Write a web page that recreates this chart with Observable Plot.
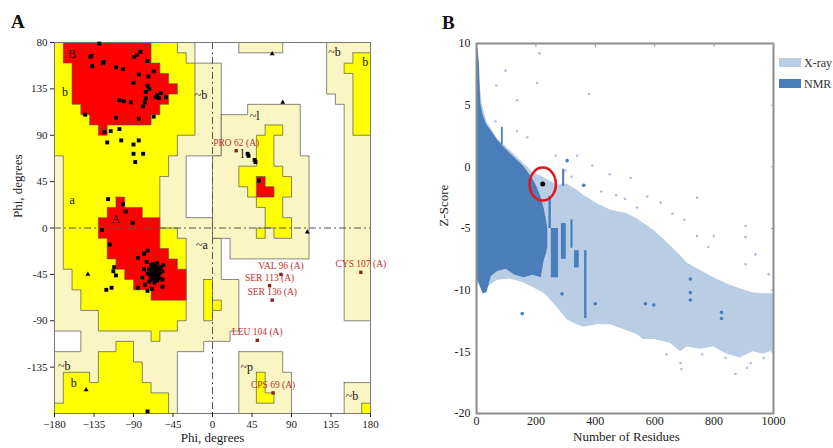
<!DOCTYPE html>
<html><head><meta charset="utf-8">
<script src="https://cdn.jsdelivr.net/npm/d3@7"></script>
<script src="https://cdn.jsdelivr.net/npm/@observablehq/plot@0.6"></script>
<style>
html,body{margin:0;padding:0;background:#fff;}
#wrap{position:relative;width:833px;height:448px;overflow:hidden;font-family:"Liberation Serif",serif;}
#pa{position:absolute;left:0;top:0;}
#pb{position:absolute;left:410px;top:0;}
.plab{position:absolute;font-weight:bold;font-size:19px;color:#111;line-height:20px;}
.leg{position:absolute;font-size:12px;color:#333;white-space:nowrap;line-height:14px;}
.sw{position:absolute;width:22px;height:9px;}
</style></head><body>
<div id="wrap">
  <div id="pa"></div><div id="pb"></div>
  <div class="plab" style="left:11px;top:12px">A</div>
  <div class="plab" style="left:442px;top:13px">B</div>
  <div class="sw" style="left:779px;top:58px;background:#b9cde5"></div>
  <div class="leg" style="left:804px;top:56px">X-ray</div>
  <div class="sw" style="left:779px;top:79px;background:#4a7ebb"></div>
  <div class="leg" style="left:804px;top:77px">NMR</div>
</div>
<script>
// ---------- Panel A: Ramachandran plot data ----------
const xTicksA = [-180, -135, -90, -45, 0, 45, 90, 135, 180];
const yTicksA = [180, 135, 90, 45, 0, -45, -90, -135];
const yTickLabelsA = ["80", "135", "90", "45", "0", "-45", "-90", "-135"];

// generously allowed (pale) regions, [phi, psi]
const paleLeft = [[-180,180],[-20,180],[-20,160],[10,160],[10,70],[-30,70],[-30,10],[0,10],[0,-10],[10,-10],[10,-50],[30,-50],[30,-100],[20,-100],[20,-110],[-10,-110],[-10,-120],[-40,-120],[-40,-180],[-180,-180],[-180,-120],[-150,-120],[-150,-100],[-180,-100]];
const paleLreg = [[10,110],[40,110],[40,120],[100,120],[100,70],[110,70],[110,-30],[20,-30],[20,-10],[0,-10],[0,70],[10,70]];
const paleTop = [[30,170],[80,170],[80,180],[30,180]];
const paleRightStrip = [[130,180],[180,180],[180,-90],[150,-90],[150,120],[140,120],[140,130],[130,130]];
const paleP = [[30,-120],[80,-120],[80,-140],[90,-140],[90,-180],[30,-180]];
const paleBR = [[150,-150],[180,-150],[180,-180],[150,-180]];

// additionally allowed (yellow) regions
const yellowLeft = [[-180,180],[-40,180],[-40,170],[-30,170],[-30,160],[-20,160],[-20,90],[-40,90],[-40,70],[-50,70],[-50,50],[-60,50],[-60,0],[-40,0],[-40,-10],[-30,-10],[-30,-90],[-40,-90],[-40,-100],[-60,-100],[-60,-110],[-70,-110],[-70,-100],[-130,-100],[-130,-80],[-150,-80],[-150,-60],[-160,-60],[-160,-40],[-170,-40],[-170,70],[-180,70]];
const yellowLowLeft = [[-180,-170],[-170,-170],[-170,-140],[-140,-140],[-140,-150],[-130,-150],[-130,-120],[-110,-120],[-110,-110],[-90,-110],[-90,-130],[-80,-130],[-80,-150],[-70,-150],[-70,-160],[-50,-160],[-50,-180],[-180,-180]];
const yellowStrip = [[-10,-50],[0,-50],[0,-90],[-10,-90]];
const yellowSmall = [[0,-70],[10,-70],[10,-80],[0,-80]];
const yellowL = [[60,100],[80,100],[80,90],[70,90],[70,60],[80,60],[80,50],[90,50],[90,30],[80,30],[80,10],[90,10],[90,-10],[70,-10],[70,0],[60,0],[60,-10],[50,-10],[50,0],[60,0],[60,20],[50,20],[50,30],[40,30],[40,40],[30,40],[30,60],[50,60],[50,90],[60,90]];
const yellowTopRight = [[160,170],[180,170],[180,90],[160,90],[160,150],[150,150],[150,160],[160,160]];
const yellowP = [[50,-140],[60,-140],[60,-160],[70,-160],[70,-170],[50,-170]];
const yellowBR = [[170,-170],[180,-170],[180,-180],[170,-180]];

// most favoured (red) regions
const redB = [[-170,180],[-70,180],[-70,160],[-60,160],[-60,150],[-50,150],[-50,140],[-40,140],[-40,130],[-50,130],[-50,120],[-60,120],[-60,110],[-70,110],[-70,100],[-120,100],[-120,90],[-130,90],[-130,100],[-140,100],[-140,110],[-150,110],[-150,120],[-160,120],[-160,160],[-170,160]];
const redA = [[-110,30],[-100,30],[-100,20],[-80,20],[-80,10],[-60,10],[-60,-20],[-50,-20],[-50,-30],[-40,-30],[-40,-40],[-30,-40],[-30,-70],[-70,-70],[-70,-60],[-90,-60],[-90,-50],[-100,-50],[-100,-40],[-110,-40],[-110,-30],[-120,-30],[-120,-10],[-130,-10],[-130,10],[-120,10],[-120,20],[-110,20]];
const redL = [[50,50],[60,50],[60,40],[70,40],[70,30],[50,30]];

// region labels
const regionText = ["B","b","~b","a","A","~a","~b","b","~l","l","~b","b","~p","~b"];
const regionPhi  = [-160,-168,-13,-160,-110,-12,-169,-158,48,34,139,174,39,159];
const regionPsi  = [169,132,129,27,9,-17,-134,-151,109,72,171,161,-135,-163];

// residues (black squares)
const resPhi = [-129,-138,-139,-82,-86,-89,-74,-125,-137,-124,-110,-102,-84,-67,-73,-90,-74,-72,-76,-65,-63,-59,-53,-61,-106,-101,-93,-77,-79,-76,-145,-110,-84,-67,-123,-116,-106,-120,-104,-84,-90,-90,-79,-88,
  -119,-102,-99,-91,-126,-117,-85,-78,-74,-112,-113,-110,-115,-121,-85,-74,-69,-57,-74,
  -70,-68,-66,-64,-72,-70,-67,-64,-61,-59,-74,-71,-68,-65,-62,-60,-57,-66,-63,-70,-75,-56,-72,-60,-68,-65,-62,-78,-80,-57,-77,-66,-69,-63,
  40,41,48,49,53];
const resPsi = [179,167,166,171,168,166,162,160,157,161,156,154,149,152,147,141,138,135,132,127,129,131,127,126,124,123,122,122,118,126,110,107,106,108,93,94,96,83,85,85,81,72,72,64,
  28,23,16,5,-2,-16,-29,-25,-22,-38,-42,-46,-58,-60,-58,-61,-59,-57,-178,
  -36,-35,-37,-38,-40,-42,-41,-42,-40,-38,-44,-46,-47,-46,-45,-44,-42,-50,-51,-50,-33,-36,-52,-49,-44,-44,-48,-40,-48,-50,-55,-53,-39,-34,
  72,70,66,64,46];

// glycines (triangles)
const glyPhi = [-142,-144,68,80,108];
const glyPsi = [-45,-157,169,122,-4];

// outliers
const outNames = ["PRO 62 (A)","VAL 96 (A)","SER 113 (A)","SER 136 (A)","LEU 104 (A)","CPS 69 (A)","CYS 107 (A)"];
const outPhi = [27,78,65,68,51,69,169];
const outPsi = [75,-45,-56,-70,-109,-160,-43];

// ---------- Panel B: ProSA Z-score data ----------
const xTicksB = [0,200,400,600,800,1000];
const yTicksB = [10,5,0,-5,-10,-15,-20];
const xrayN  = [0,10,20,36,70,114,158,192,230,272,305,339,361,406,451,507,540,563,600,653,687,709,754,799,844,889,930,967,1000];
const xrayHi = [9.5,7.0,5.0,3.6,2.3,1.3,0.3,-0.5,-0.9,-1.5,-1.4,-1.9,-2.3,-3.0,-3.5,-3.8,-4.2,-4.6,-5.2,-6.4,-7.2,-7.8,-8.4,-9.0,-9.5,-9.9,-10.2,-10.3,-10.3];
const xrayLo = [-9.4,-9.6,-9.8,-9.8,-9.2,-9.1,-9.4,-9.8,-10.3,-11.4,-12.4,-12.8,-13.0,-12.8,-12.8,-13.3,-13.6,-14.0,-14.0,-14.3,-15.0,-14.6,-14.8,-14.6,-15.2,-15.5,-15.0,-15.2,-14.9];
const nmrN  = [0,5,10,14,22,35,50,70,100,130,160,190,205,218,228,236,240];
const nmrHi = [9.8,9.6,8.3,5.2,4.2,3.4,2.9,2.2,1.4,0.7,0.0,-1.0,-1.7,-2.5,-3.4,-4.4,-5.0];
const nmrLo = [-9.0,-9.2,-9.5,-9.8,-10.3,-10.2,-8.9,-8.5,-8.3,-8.8,-9.0,-8.8,-8.9,-9.0,-7.6,-7.0,-6.5];
const streakN1 = [84,290,244,252,286,318,330,364];
const streakN2 = [90,297,252,276,302,325,346,372];
const streakTop = [3.2,-0.2,-2.4,-5.0,-4.6,-4.3,-6.8,-6.8];
const streakBot = [1.8,-1.6,-5.0,-9.0,-7.5,-6.6,-8.2,-12.3];
const nmrDotN = [288,400,569,597,720,720,825,825,361,305,720,154];
const nmrDotZ = [-10.3,-11.1,-11.1,-11.2,-10.2,-10.8,-11.8,-12.3,-1.5,0.5,-9.1,-11.9];
const xrayDotN = [212,98,204,67,378,137,64,137,171,266,339,390,449,519,575,620,743,743,906,906,799,939,906,984,300,320,420,470,500,540,660,700,780,838,872,911,923,967,687,690,760,640];
const xrayDotZ = [9.2,7.8,6.8,6.6,5.9,5.4,3.7,2.9,2.4,0.9,0.9,0.1,-0.6,-0.9,-2.4,-2.9,-2.5,-5.6,-4.8,-5.7,-5.6,-7.1,-7.9,-8.7,-0.3,-0.8,-2.0,-2.3,-2.6,-3.3,-3.8,-4.3,-6.5,-15.5,-16.8,-16.3,-15.9,-15.5,-15.9,-16.4,-15.2,-15.2];
const modelN = [223];
const modelZ = [-1.4];

// ---------- build tables ----------
function polyRows(list){
  return list.flatMap((pts,i)=>[...pts, pts[0]].map(([phi,psi])=>({g:i, phi, psi})));
}
const paleRows = polyRows([paleLeft, paleLreg, paleTop, paleRightStrip, paleP, paleBR]);
const yellowRows = polyRows([yellowLeft, yellowLowLeft, yellowStrip, yellowSmall, yellowL, yellowTopRight, yellowP, yellowBR]);
const redRows = polyRows([redB, redA, redL]);
const regionLabels = regionText.map((t,i)=>({t, phi: regionPhi[i], psi: regionPsi[i]}));
const residues = resPhi.map((p,i)=>({phi:p, psi:resPsi[i]}));
const glycines = glyPhi.map((p,i)=>({phi:p, psi:glyPsi[i]}));
const outliers = outNames.map((n,i)=>({name:n, phi:outPhi[i], psi:outPsi[i]}));

const PALE="#faf6c4", YEL="#ffff00", RED="#ff0000", EDGE="#555";
const FONT = "Liberation Serif";

const plotA = Plot.plot({
  width: 400, height: 448,
  marginLeft: 54, marginRight: 30, marginTop: 42, marginBottom: 35,
  x: {domain: [-180,180]}, y: {domain: [-180,180]},
  style: {fontFamily: FONT, fontSize: "11px", color: "#222", background: "transparent"},
  marks: [
    Plot.line(paleRows, {x:"phi", y:"psi", z:"g", fill: PALE, stroke: EDGE, strokeWidth: 0.7, curve: "linear"}),
    Plot.line(yellowRows, {x:"phi", y:"psi", z:"g", fill: YEL, stroke: EDGE, strokeWidth: 0.7, curve: "linear"}),
    Plot.line(redRows, {x:"phi", y:"psi", z:"g", fill: RED, stroke: EDGE, strokeWidth: 0.6, curve: "linear"}),
    Plot.ruleX([0], {stroke: "#555", strokeWidth: 1, strokeDasharray: "7,3,2,3"}),
    Plot.ruleY([0], {stroke: "#555", strokeWidth: 1, strokeDasharray: "7,3,2,3"}),
    Plot.frame({stroke: "#777", strokeWidth: 1}),
    Plot.axisX({ticks: xTicksA, tickSize: 4, tickPadding: 3, label: null, fontSize: 11}),
    Plot.axisY({ticks: yTicksA, tickFormat: d => yTickLabelsA[yTicksA.indexOf(d)], tickSize: 4, tickPadding: 3, label: null, fontSize: 11}),
    Plot.text(regionLabels, {x:"phi", y:"psi", text:"t", fill:"#111", fontSize: 12}),
    Plot.dot(residues, {x:"phi", y:"psi", symbol:"square", r: 2.2, fill:"#000"}),
    Plot.dot(glycines, {x:"phi", y:"psi", symbol:"triangle", r: 1.8, fill:"#000"}),
    Plot.dot(outliers, {x:"phi", y:"psi", symbol:"square", r: 1.9, fill:"#8b2020"}),
    Plot.text(outliers, {x:"phi", y:"psi", text:"name", dy: -8, fill:"#c0302c", fontSize: 9.5}),
    Plot.text(["Phi, degrees"], {frameAnchor:"bottom", dy: 28, fontSize: 13, fill:"#222"}),
    Plot.text(["Phi, degrees"], {frameAnchor:"left", dx: -37, dy: -10, rotate: -90, fontSize: 13, fill:"#222"})
  ]
});
document.getElementById("pa").appendChild(plotA);

// ---------- Panel B ----------
const XRAY="#b9cde5", NMR="#4a7ebb";
const xrayTable = xrayN.map((n,i)=>({n, lo:xrayLo[i], hi:xrayHi[i]}));
const nmrTable = nmrN.map((n,i)=>({n, lo:nmrLo[i], hi:nmrHi[i]}));
const streaks = streakN1.map((a,i)=>({a, b:streakN2[i], t:streakTop[i], d:streakBot[i]}));
const nmrDots = nmrDotN.map((n,i)=>({n, z:nmrDotZ[i]}));
const xrayDots = xrayDotN.map((n,i)=>({n, z:xrayDotZ[i]}));
const model = modelN.map((n,i)=>({n, z:modelZ[i]}));
const ellipseSym = {draw(ctx, size){
  const r = Math.sqrt(size/Math.PI), rx = 0.88*r, ry = 1.1*r, k = 0.5523;
  ctx.moveTo(rx,0);
  ctx.bezierCurveTo(rx, ry*k, rx*k, ry, 0, ry);
  ctx.bezierCurveTo(-rx*k, ry, -rx, ry*k, -rx, 0);
  ctx.bezierCurveTo(-rx, -ry*k, -rx*k, -ry, 0, -ry);
  ctx.bezierCurveTo(rx*k, -ry, rx, -ry*k, rx, 0);
  ctx.closePath();
}};

const plotB = Plot.plot({
  width: 423, height: 448,
  marginLeft: 66, marginRight: 60, marginTop: 43, marginBottom: 35,
  x: {domain: [0,1000]}, y: {domain: [-20,10]},
  style: {fontFamily: FONT, fontSize: "12px", color: "#222", background: "transparent"},
  marks: [
    Plot.areaY(xrayTable, {x:"n", y1:"lo", y2:"hi", fill: XRAY, curve:"linear"}),
    Plot.dot(xrayDots, {x:"n", y:"z", r: 1.3, fill: "#a9c1df"}),
    Plot.areaY(nmrTable, {x:"n", y1:"lo", y2:"hi", fill: NMR, curve:"linear"}),
    Plot.rect(streaks, {x1:"a", x2:"b", y1:"d", y2:"t", fill: NMR}),
    Plot.dot(nmrDots, {x:"n", y:"z", r: 1.8, fill: NMR}),
    Plot.frame({stroke:"#8c8c8c", strokeWidth: 2}),
    Plot.axisX({ticks: xTicksB, tickFormat: d => String(d), tickSize: 0, tickPadding: 3, label: null, fontSize: 12}),
    Plot.axisY({ticks: yTicksB, tickFormat: d => String(d), tickSize: 0, tickPadding: 6, label: null, fontSize: 12}),
    Plot.axisX({anchor:"top", ticks: xTicksB, tickSize: -3, tickFormat: () => "", label: null, stroke:"#999"}),
    Plot.axisY({anchor:"right", ticks: yTicksB, tickSize: -3, tickFormat: () => "", label: null, stroke:"#999"}),
    Plot.dot(model, {x:"n", y:"z", r: 15, symbol: ellipseSym, fill:"none", stroke:"#e8141b", strokeWidth: 2.5}),
    Plot.dot(model, {x:"n", y:"z", r: 2.5, fill:"#000"}),
    Plot.text(["Number of Residues"], {frameAnchor:"bottom", dy: 27, dx: 1.5, fontSize: 13, fill:"#222"}),
    Plot.text(["Z-Score"], {frameAnchor:"left", dx: -33, dy: -2, rotate: -90, fontSize: 13, fill:"#222"})
  ]
});
document.getElementById("pb").appendChild(plotB);
</script>
</body></html>
